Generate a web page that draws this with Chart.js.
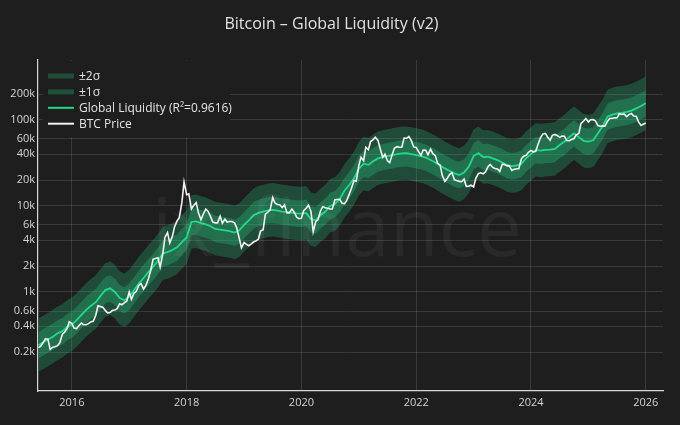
<!DOCTYPE html>
<html>
<head>
<meta charset="utf-8">
<title>Bitcoin – Global Liquidity (v2)</title>
<script src="https://cdn.jsdelivr.net/npm/chart.js@4.4.1/dist/chart.umd.min.js"></script>
<style>
  html, body { margin: 0; padding: 0; background: #1e1e1e; }
  #myChart { display: block; }
</style>
</head>
<body>
<canvas id="myChart" width="680" height="425"></canvas>
<script>
/* month grid Jun 2015 .. Jan 2026, as decimal years */
const months = [];
for (let y = 2015, m = 6; y < 2026 || (y === 2026 && m === 1); m++) {
    if (m > 12) { m = 1; y++; }
    months.push(y + (m - 1) / 12);
    if (y === 2026) break;
}

/* BTC is read twice a month (1st and 15th), last point 1 Jan 2026 */
const btcDates = [];
for (let y = 2015, m = 6; y < 2026; m++) {
    if (m > 12) { m = 1; y++; if (y === 2026) break; }
    btcDates.push(y + (m - 1) / 12);
    btcDates.push(y + (m - 1) / 12 + 14 / 365.25);
}
btcDates.push(2026);

const btcPrice = [
    225, 232, 258, 285, 282, 215, 228, 230, 237, 255, 320, 340, 375, 450,
    430, 380, 375, 405, 435, 415, 416, 428, 450, 455, 535, 690, 675, 665, 610, 570, 575, 607, 615, 640, 730, 710, 750, 780,
    1000, 820, 970, 1010, 1190, 1250, 1080, 1180, 1420, 1750, 2400, 2450, 2500, 1950, 2750, 4300, 4900, 3700, 4400, 5700, 6700, 7300, 10900, 19000,
    13500, 13800, 9200, 10100, 10900, 8300, 6900, 8000, 9200, 8700, 7500, 6500, 6350, 6350, 7600, 6300, 7000, 6500, 6600, 6600, 6350, 5600, 4200, 3250,
    3750, 3600, 3450, 3600, 3800, 3900, 4100, 5100, 5300, 8000, 8500, 9000, 12500, 10800, 10400, 10300, 9600, 10300, 8300, 8300, 9200, 8500, 7400, 7100,
    7200, 8800, 9400, 10200, 8600, 5000, 6600, 6900, 8800, 9800, 9500, 9400, 9200, 9200, 11800, 11850, 11900, 10800, 10600, 11500, 13700, 16000, 19700, 19400,
    29400, 36800, 33500, 48000, 45000, 56000, 59000, 63000, 57800, 46500, 36700, 40000, 33500, 31800, 39800, 47000, 48800, 48000, 48000, 61500, 61000, 64000, 57000, 48500,
    47700, 43000, 38700, 44500, 44400, 39300, 45800, 40500, 38400, 31300, 29800, 22500, 19300, 20800, 23300, 24300, 20100, 19700, 19300, 19100, 20500, 16900, 17000, 17400,
    16600, 20900, 23700, 24300, 23600, 24800, 28500, 30300, 28000, 27200, 26800, 25100, 30600, 30300, 29200, 29200, 25900, 26600, 27000, 27100, 35400, 37900, 38700, 42000,
    44200, 42500, 43100, 51900, 62400, 68400, 69700, 63400, 58000, 66200, 67800, 66000, 62700, 64800, 64600, 57600, 57300, 59200, 60800, 67000, 69500, 91000, 97200, 104000,
    94400, 100500, 100600, 97500, 86000, 84300, 85200, 84500, 96500, 103700, 104700, 105500, 105700, 117800, 115700, 117400, 109200, 115300, 118600, 111000, 110100, 95500, 86300, 89000,
    92000
];

const liquidity = [
    240, 260, 280, 300, 330, 350, 390,
    420, 470, 540, 620, 690, 760, 900, 1050, 1100, 1000, 850, 800,
    880, 1050, 1250, 1450, 1700, 1960, 2300, 2800, 2900, 3070, 3300, 3800,
    4300, 6500, 6600, 6300, 6100, 5800, 5400, 5300, 5200, 5100, 4900, 5200,
    6000, 6800, 7800, 8300, 8600, 8900, 9000, 8800, 8600, 8500, 8300, 8200,
    8150, 8300, 7000, 6800, 7800, 8600, 10000, 10500, 12000, 15000, 17500, 21000,
    27000, 31000, 30000, 33000, 35700, 37000, 38000, 39000, 40000, 40800, 41000, 40000,
    39000, 38000, 36500, 34200, 32000, 29500, 27300, 25500, 23900, 22850, 24500, 28600,
    38000, 41000, 37000, 37300, 35700, 34000, 32000, 29900, 29000, 29500, 31000, 36000,
    40000, 44700, 44000, 44700, 45000, 46000, 51000, 56000, 63000, 69800, 63000, 57000,
    55800, 58000, 69800, 85000, 109000, 115000, 119000, 121000, 124000, 128000, 136000, 145000,
    156000
];

const upper2 = [
    490, 530, 570, 615, 677, 718, 800,
    861, 964, 1107, 1271, 1415, 1558, 1845, 2153, 2255, 2050, 1743, 1640,
    1804, 2153, 2563, 2973, 3485, 4018, 4715, 5740, 5945, 6294, 6765, 7790,
    8815, 13325, 13530, 12915, 12505, 11890, 11070, 10865, 10660, 10455, 10045, 10660,
    12300, 13940, 15990, 17015, 17630, 18245, 18450, 18040, 17630, 17425, 17015, 16810,
    16708, 17015, 14350, 13940, 15990, 17630, 20500, 21525, 24600, 30750, 35875, 43050,
    55350, 63550, 61500, 67650, 73185, 75850, 77900, 79950, 82000, 83640, 84050, 82000,
    79950, 77900, 74825, 70110, 65600, 60475, 55965, 52275, 48995, 46843, 50225, 58630,
    77900, 84050, 75850, 76465, 73185, 69700, 65600, 61295, 59450, 60475, 63550, 73800,
    82000, 91635, 90200, 91635, 92250, 94300, 104550, 114800, 129150, 143090, 129150, 116850,
    114390, 118900, 143090, 174250, 223450, 235750, 243950, 248050, 254200, 262400, 278800, 297250,
    319800
];

const upper1 = [
    340, 370, 400, 426, 469, 497, 554,
    596, 667, 767, 880, 980, 1079, 1278, 1491, 1562, 1420, 1207, 1136,
    1250, 1491, 1775, 2059, 2414, 2783, 3266, 3976, 4118, 4359, 4686, 5396,
    6106, 9230, 9372, 8946, 8662, 8236, 7668, 7526, 7384, 7242, 6958, 7384,
    8520, 9656, 11076, 11786, 12212, 12638, 12780, 12496, 12212, 12070, 11786, 11644,
    11573, 11786, 9940, 9656, 11076, 12212, 14200, 14910, 17040, 21300, 24850, 29820,
    38340, 44020, 42600, 46860, 50694, 52540, 53960, 55380, 56800, 57936, 58220, 56800,
    55380, 53960, 51830, 48564, 45440, 41890, 38766, 36210, 33938, 32447, 34790, 40612,
    53960, 58220, 52540, 52966, 50694, 48280, 45440, 42458, 41180, 41890, 44020, 51120,
    56800, 63474, 62480, 63474, 63900, 65320, 72420, 79520, 89460, 99116, 89460, 80940,
    79236, 82360, 99116, 120700, 154780, 163300, 168980, 171820, 176080, 181760, 193120, 205900,
    221520
];

const lower1 = [
    168, 182, 196, 210, 231, 245, 273,
    294, 329, 378, 434, 483, 532, 630, 735, 770, 700, 595, 560,
    616, 735, 875, 1015, 1190, 1372, 1610, 1960, 2030, 2149, 2310, 2660,
    3010, 4550, 4620, 4410, 4270, 4060, 3780, 3710, 3640, 3570, 3430, 3640,
    4200, 4760, 5460, 5810, 6020, 6230, 6300, 6160, 6020, 5950, 5810, 5740,
    5705, 5810, 4900, 4760, 5460, 6020, 7000, 7350, 8400, 10500, 12250, 14700,
    18900, 21700, 21000, 23100, 24990, 25900, 26600, 27300, 28000, 28560, 28700, 28000,
    27300, 26600, 25550, 23940, 22400, 20650, 19110, 17850, 16730, 15995, 17150, 20020,
    26600, 28700, 25900, 26110, 24990, 23800, 22400, 20930, 20300, 20650, 21700, 25200,
    28000, 31290, 30800, 31290, 31500, 32200, 35700, 39200, 44100, 48860, 44100, 39900,
    39060, 40600, 48860, 59500, 76300, 80500, 83300, 84700, 86800, 89600, 95200, 101500,
    109200
];

const lower2 = [
    118, 127, 137, 147, 162, 172, 191,
    206, 230, 265, 304, 338, 372, 441, 515, 539, 490, 417, 392,
    431, 515, 613, 711, 833, 960, 1127, 1372, 1421, 1504, 1617, 1862,
    2107, 3185, 3234, 3087, 2989, 2842, 2646, 2597, 2548, 2499, 2401, 2548,
    2940, 3332, 3822, 4067, 4214, 4361, 4410, 4312, 4214, 4165, 4067, 4018,
    3994, 4067, 3430, 3332, 3822, 4214, 4900, 5145, 5880, 7350, 8575, 10290,
    13230, 15190, 14700, 16170, 17493, 18130, 18620, 19110, 19600, 19992, 20090, 19600,
    19110, 18620, 17885, 16758, 15680, 14455, 13377, 12495, 11711, 11197, 12005, 14014,
    18620, 20090, 18130, 18277, 17493, 16660, 15680, 14651, 14210, 14455, 15190, 17640,
    19600, 21903, 21560, 21903, 22050, 22540, 24990, 27440, 30870, 34202, 30870, 27930,
    27342, 28420, 34202, 41650, 53410, 56350, 58310, 59290, 60760, 62720, 66640, 71050,
    76440
];

const yTickValues = [200, 400, 600, 1000, 2000, 4000, 6000, 10000, 20000, 40000, 60000, 100000, 200000];
const yTickLabels = ['0.2k', '0.4k', '0.6k', '1k', '2k', '4k', '6k', '10k', '20k', '40k', '60k', '100k', '200k'];
const xTickYears = [2016, 2018, 2020, 2022, 2024, 2026];

const chartTitle = 'Bitcoin – Global Liquidity (v2)';
const liquidityLabel = 'Global Liquidity (R²=0.9616)';
const watermarkText = 'ix_finance';

const bgColor = '#1e1e1e';
const textColor = '#d4d4d4';
const gridColor = 'rgba(255, 255, 255, 0.12)';
const liquidityColor = '#22d98a';
const band2Color = 'rgba(40, 200, 130, 0.27)';
const band1Color = 'rgba(40, 200, 130, 0.30)';

const toPoints = (xs, ys) => ys.map((v, i) => ({ x: xs[i], y: v }));

const ctx = document.getElementById('myChart');

/* faint watermark across the middle of the plot */
const watermark = {
    id: 'watermark',
    afterDatasetsDraw(chart) {
        const c = chart.ctx;
        c.save();
        c.font = '80px "Open Sans"';
        c.fillStyle = 'rgba(255, 255, 255, 0.05)';
        c.textBaseline = 'alphabetic';
        c.textAlign = 'left';
        c.fillText(watermarkText, 152, 256);
        c.restore();
    }
};

/* legend box in the top-left corner of the plot, like the original */
const cornerLegend = {
    id: 'cornerLegend',
    afterDraw(chart) {
        const c = chart.ctx;
        const area = chart.chartArea;
        const ds = chart.data.datasets;
        const items = [
            { label: ds[0].label, color: ds[0].backgroundColor, band: true },
            { label: ds[2].label, color: ds[2].backgroundColor, band: true },
            { label: ds[4].label, color: ds[4].borderColor, band: false },
            { label: ds[5].label, color: ds[5].borderColor, band: false }
        ];
        c.save();
        c.fillStyle = bgColor;
        c.fillRect(area.left + 5, area.top + 1, 187, 76);
        c.font = '12px "Open Sans"';
        c.textBaseline = 'middle';
        c.textAlign = 'left';
        items.forEach((it, i) => {
            const y = area.top + 16 + i * 15.9;
            if (it.band) {
                c.fillStyle = it.color;
                c.fillRect(area.left + 10, y - 2.5, 26, 5);
            } else {
                c.strokeStyle = it.color;
                c.lineWidth = 2;
                c.beginPath();
                c.moveTo(area.left + 10, y);
                c.lineTo(area.left + 36, y);
                c.stroke();
            }
            c.fillStyle = '#e4e4e4';
            c.fillText(it.label, area.left + 41, y + 0.5);
        });
        c.restore();
    }
};

const bandStyle = {
    borderWidth: 0,
    pointRadius: 0,
    pointHoverRadius: 0,
    tension: 0
};

const btcChart = new Chart(ctx, {
    type: 'line',
    data: {
        datasets: [
            { ...bandStyle, label: '±2σ', data: toPoints(months, upper2), fill: 1, backgroundColor: band2Color, order: 5 },
            { ...bandStyle, label: '-2σ', data: toPoints(months, lower2), fill: false, order: 4 },
            { ...bandStyle, label: '±1σ', data: toPoints(months, upper1), fill: 3, backgroundColor: band1Color, order: 3 },
            { ...bandStyle, label: '-1σ', data: toPoints(months, lower1), fill: false, order: 2 },
            {
                label: liquidityLabel,
                data: toPoints(months, liquidity),
                borderColor: liquidityColor,
                borderWidth: 1.8,
                pointRadius: 0,
                tension: 0,
                fill: false,
                order: 1
            },
            {
                label: 'BTC Price',
                data: toPoints(btcDates, btcPrice),
                borderColor: '#f2f2f2',
                borderWidth: 1.6,
                pointRadius: 0,
                tension: 0,
                fill: false,
                order: 0
            }
        ]
    },
    options: {
        responsive: false,
        devicePixelRatio: 1,
        animation: false,
        layout: {
            padding: { left: 0, right: 17, top: 0, bottom: 0 }
        },
        scales: {
            x: {
                type: 'linear',
                min: 2015.41,
                max: 2026.3,
                afterBuildTicks: (scale) => {
                    scale.ticks = xTickYears.map(v => ({ value: v }));
                },
                afterFit: (scale) => { scale.height = 34; },
                ticks: {
                    color: textColor,
                    font: { family: 'Open Sans', size: 11 },
                    padding: 5,
                    maxRotation: 0,
                    callback: (value) => String(value)
                },
                grid: { color: gridColor, lineWidth: 1, drawTicks: false },
                border: { color: '#d8d8d8', width: 1.2 }
            },
            y: {
                type: 'logarithmic',
                min: 70.5,
                max: 497000,
                afterBuildTicks: (scale) => {
                    scale.ticks = yTickValues.map(v => ({ value: v }));
                },
                afterFit: (scale) => { scale.width = 38; },
                ticks: {
                    color: textColor,
                    font: { family: 'Open Sans', size: 11 },
                    padding: 3,
                    callback: (value) => {
                        const i = yTickValues.indexOf(value);
                        return i >= 0 ? yTickLabels[i] : '';
                    }
                },
                grid: { color: gridColor, lineWidth: 1, drawTicks: false },
                border: { color: '#d8d8d8', width: 1.2 }
            }
        },
        plugins: {
            legend: { display: false },
            tooltip: { enabled: false },
            title: {
                display: true,
                text: chartTitle,
                color: '#e2e2e2',
                font: { family: 'Open Sans', size: 16, weight: 'normal', lineHeight: 1.2 },
                padding: { top: 15, bottom: 25.8 }
            }
        }
    },
    plugins: [watermark, cornerLegend]
});
</script>
</body>
</html>
